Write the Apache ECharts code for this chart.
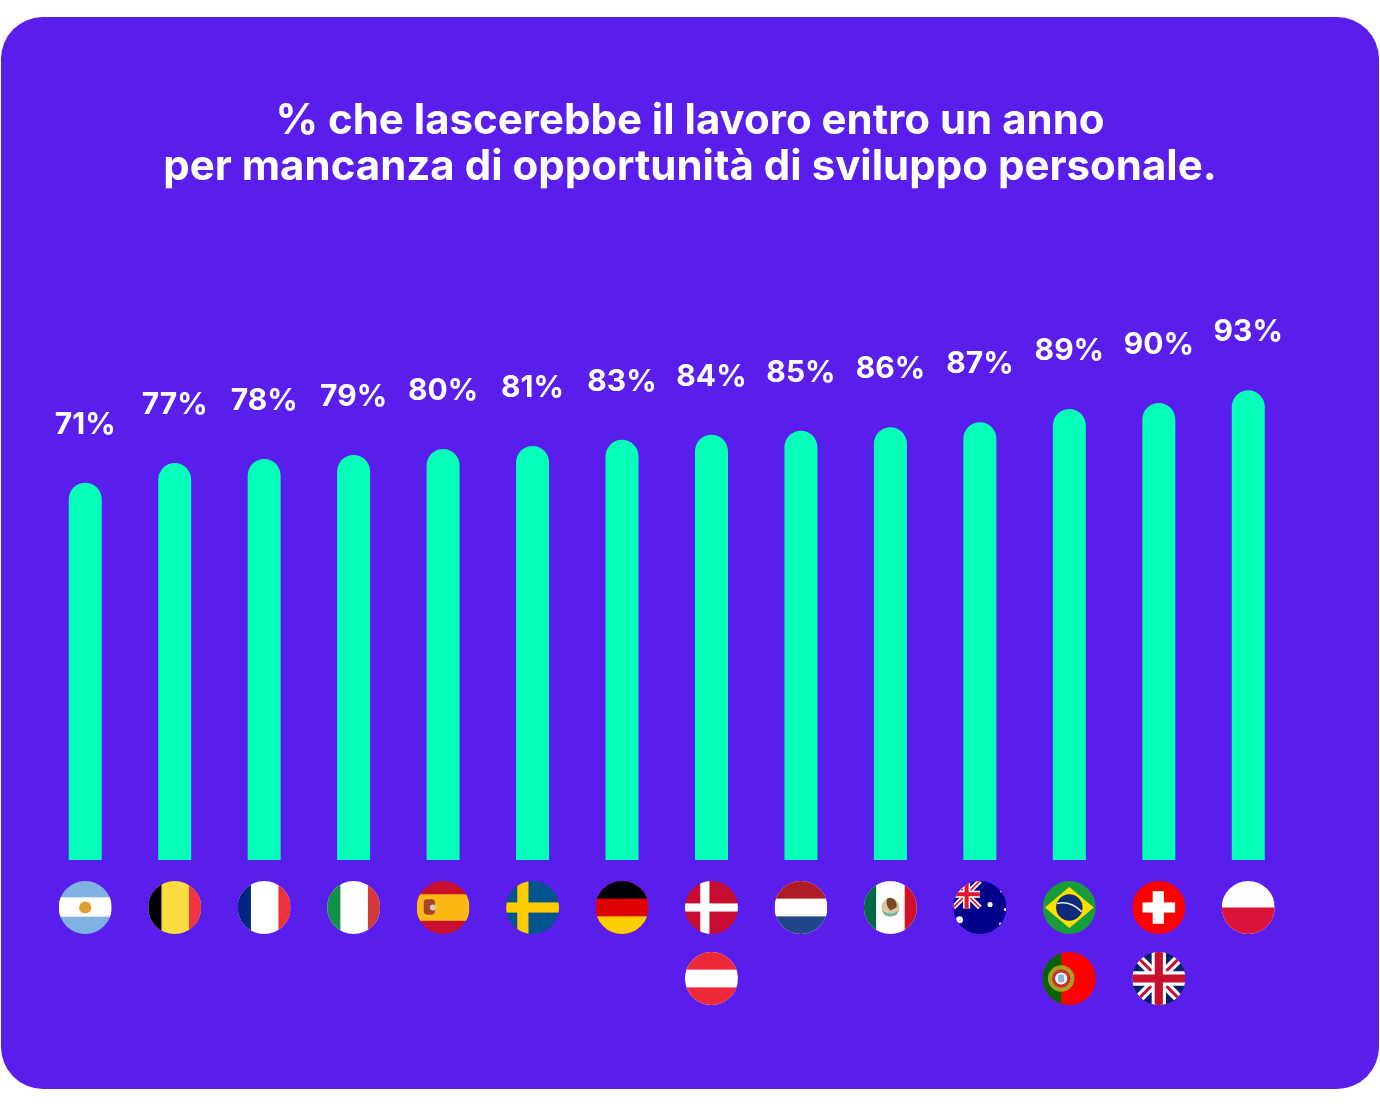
<!DOCTYPE html>
<html><head><meta charset="utf-8">
<style>html,body{margin:0;padding:0;background:#fff}#c{width:1380px;height:1104px}</style>
<script src="https://cdn.jsdelivr.net/npm/echarts@6/dist/echarts.min.js"></script>
</head><body><div id="c"></div>
<script>
const titleText = "% che lascerebbe il lavoro entro un anno\nper mancanza di opportunità di sviluppo personale.";
const categories = ["Argentina","Belgio","Francia","Italia","Spagna","Svezia","Germania","Danimarca / Austria","Paesi Bassi","Messico","Australia","Brasile / Portogallo","Svizzera / Regno Unito","Polonia"];
const percentLabels = [71,77,78,79,80,81,83,84,85,86,87,89,90,93];
const drawnBarLengths = [74.7,78.6,79.4,80.2,81.4,82,83.2,84.2,85,85.7,86.7,89.3,90.5,93];
const flagColumn = [0,1,2,3,4,5,6,7,8,9,10,11,12,13,7,11,12];
const flagRow = [0,0,0,0,0,0,0,0,0,0,0,0,0,0,1,1,1];
const flagCode = ["ar","be","fr","it","es","se","de","dk","nl","mx","au","br","ch","pl","at","pt","gb"];

const stripesV=(a,b,c,w1=17.3,w2=17.4)=>`<rect width="52" height="52" fill="${b}"/><rect width="${w1}" height="52" fill="${a}"/><rect x="${w1+w2}" width="${52-w1-w2}" height="52" fill="${c}"/>`;
const stripesH=(a,b,c)=>`<rect width="52" height="52" fill="${b}"/><rect width="52" height="17.3" fill="${a}"/><rect y="34.7" width="52" height="17.3" fill="${c}"/>`;
const art = {
 ar:`<rect width="52" height="52" fill="#7fb2e2"/><rect y="16" width="52" height="19" fill="#fff"/><circle cx="26" cy="26" r="6" fill="#e0a030"/>`,
 be:stripesV("#000","#fbdc3e","#ef3340",13,27),
 fr:stripesV("#00267f","#fff","#f03038",13,27),
 it:stripesV("#0f9146","#fff","#d03a3a",13,27),
 es:`<rect width="52" height="52" fill="#c8102e"/><rect y="13" width="52" height="26" fill="#fdb913"/><rect x="7" y="18" width="11" height="15" rx="3" fill="#a8442a"/><circle cx="16" cy="26" r="3" fill="#d8c8c0"/>`,
 se:`<rect width="52" height="52" fill="#00558f"/><rect x="11" width="11" height="52" fill="#fecb00"/><rect y="21" width="52" height="10" fill="#fecb00"/>`,
 de:stripesH("#000","#dd0000","#ffce00"),
 dk:`<rect width="52" height="52" fill="#c60c30"/><rect x="15" width="9" height="52" fill="#fff"/><rect y="22" width="52" height="8" fill="#fff"/>`,
 nl:stripesH("#ae1c28","#fff","#21468b"),
 mx:stripesV("#006847","#fff","#ce1126",12,28)+`<circle cx="26" cy="26" r="9" fill="#d8c8a8"/><path d="M23 17c5-2 10 2 9 9l-6 3c-3-3-5-7-3-12z" fill="#7a4a25"/><path d="M18 29c4 4 12 4 16 0l-2 4c-4 2-9 2-12 0z" fill="#6eb5a5"/>`,
 au:`<rect width="52" height="52" fill="#00008b"/><path d="M0 0L26 26M26 0L0 26" stroke="#fff" stroke-width="5"/><path d="M0 0L26 26M26 0L0 26" stroke="#e8112d" stroke-width="1.7"/><path d="M13 0V27M0 13H26" stroke="#fff" stroke-width="7"/><path d="M13 0V27M0 13H26" stroke="#e8112d" stroke-width="4"/><circle cx="36" cy="23" r="2.5" fill="#fff"/><circle cx="6" cy="38" r="3.5" fill="#fff"/><circle cx="51" cy="28" r="1.5" fill="#fff"/><circle cx="47" cy="10" r="1.2" fill="#fff"/><circle cx="46" cy="42" r="1.2" fill="#fff"/>`,
 br:`<rect width="52" height="52" fill="#179c3a"/><path d="M26 6L50 26L26 46L2 26Z" fill="#fedf00"/><circle cx="26" cy="26" r="13" fill="#0f2a78"/><path d="M14 22c9-2 17 1 24 8" stroke="#dfe8f0" stroke-width="1.6" fill="none"/>`,
 ch:`<rect width="52" height="52" fill="#ff0000"/><rect x="20" y="10" width="11" height="32" fill="#fff"/><rect x="10" y="21" width="32" height="10" fill="#fff"/>`,
 pl:`<rect width="52" height="52" fill="#fff"/><rect y="26" width="52" height="26" fill="#dc143c"/>`,
 at:stripesH("#ed2939","#fff","#ed2939"),
 pt:`<rect width="52" height="52" fill="#ff0000"/><rect width="18" height="52" fill="#006600"/><circle cx="18" cy="26" r="13" fill="#a8a020"/><circle cx="18" cy="26" r="9" fill="#c83030"/><circle cx="18" cy="26" r="6" fill="#fff"/><rect x="15" y="22" width="6" height="8" rx="2" fill="#8ab4dc"/>`,
 gb:`<rect width="52" height="52" fill="#012169"/><path d="M0 0L52 52M52 0L0 52" stroke="#fff" stroke-width="9"/><path d="M0 0L52 52M52 0L0 52" stroke="#c8102e" stroke-width="3"/><path d="M26 0V52M0 26H52" stroke="#fff" stroke-width="14"/><path d="M26 0V52M0 26H52" stroke="#c8102e" stroke-width="8"/>`
};
const flagSymbol = c => "image://data:image/svg+xml;charset=utf-8," + encodeURIComponent(
 `<svg xmlns="http://www.w3.org/2000/svg" width="208" height="208" viewBox="0 0 52 52"><defs><clipPath id="c"><circle cx="26" cy="26" r="26"/></clipPath></defs><g clip-path="url(#c)">${art[c]}</g></svg>`);

const chart = echarts.init(document.getElementById('c'), null, {renderer:'canvas'});
chart.setOption({
 animation:false,
 graphic:[{type:'rect',z:-10,silent:true,shape:{x:1,y:17,width:1378,height:1072,r:42},style:{fill:'#591EEB'}}],
 title:{text:titleText,left:685,top:93,textAlign:'center',
  textStyle:{color:'#fff',fontFamily:'Inter',fontWeight:700,fontSize:42,lineHeight:46}},
 grid:[
  {left:40.5,width:1252.5,top:355,height:505},
  {left:40.5,width:1252.5,top:872,height:142}
 ],
 xAxis:[
  {type:'category',gridIndex:0,data:categories,show:false},
  {type:'category',gridIndex:1,data:categories,show:false}
 ],
 yAxis:[
  {type:'value',gridIndex:0,min:0,max:100,show:false},
  {type:'category',gridIndex:1,data:['prima riga','seconda riga'],inverse:true,show:false}
 ],
 series:[
  {type:'bar',xAxisIndex:0,yAxisIndex:0,data:drawnBarLengths,barWidth:33,
   itemStyle:{color:'#06FFB8',borderRadius:[17,17,0,0]},
   label:{show:true,position:'top',distance:43,color:'#fff',fontFamily:'Inter',fontWeight:700,fontSize:30,
    formatter:p=>percentLabels[p.dataIndex]+'%'}},
  {type:'scatter',xAxisIndex:1,yAxisIndex:1,symbolSize:53,clip:false,itemStyle:{opacity:1},
   data:flagCode.map((c,i)=>({value:[flagColumn[i],flagRow[i]],symbol:flagSymbol(c)}))}
 ]
});
</script></body></html>
